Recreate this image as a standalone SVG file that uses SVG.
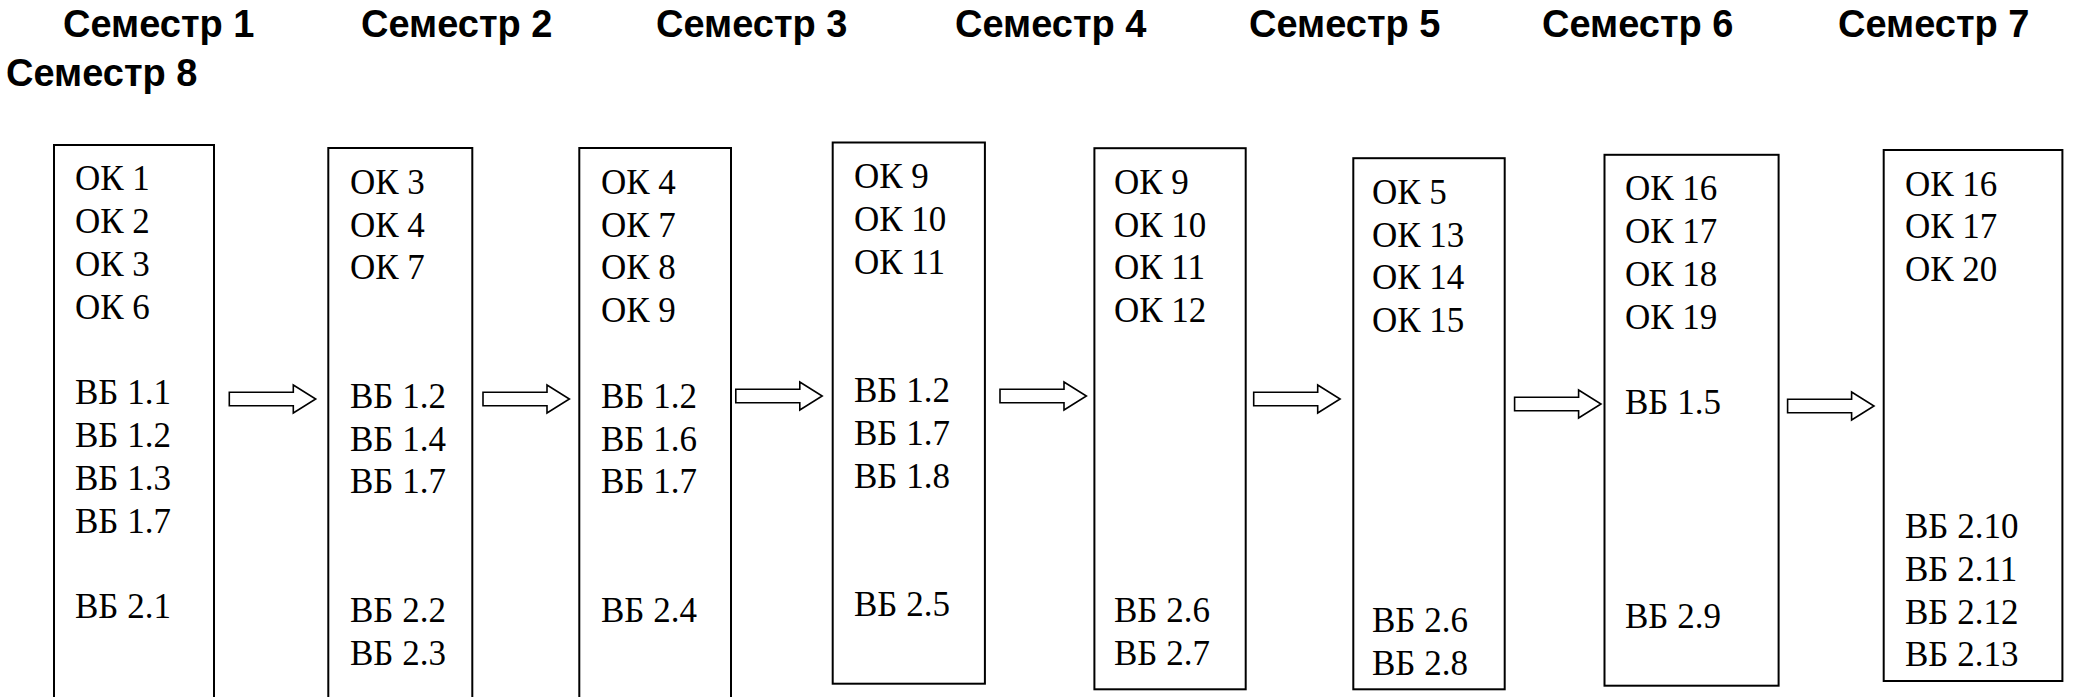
<svg xmlns="http://www.w3.org/2000/svg" xmlns:xlink="http://www.w3.org/1999/xlink" width="2073" height="697" viewBox="0 0 2073 697">
<style>
.hd{font-family:"Liberation Sans",Arial,sans-serif;font-weight:bold;font-size:38px;fill:#000}
.bx{fill:#fff;stroke:#000;stroke-width:2}
.tx{font-family:"Liberation Serif","Times New Roman",serif;font-size:35px;fill:#000}
.ar{fill:#fff;stroke:#000;stroke-width:1.6;stroke-linejoin:miter}
</style>
<defs>
<path id="arrow" class="ar" d="M0,-6.7 H64 V-14 L86.4,0 L64,14 V6.7 H0 Z"/>
</defs>
<rect width="2073" height="697" fill="#fff"/>
<g id="headings">
<text class="hd" x="63" y="37">Семестр 1</text>
<text class="hd" x="361" y="37">Семестр 2</text>
<text class="hd" x="656" y="37">Семестр 3</text>
<text class="hd" x="955" y="37">Семестр 4</text>
<text class="hd" x="1249" y="37">Семестр 5</text>
<text class="hd" x="1542" y="37">Семестр 6</text>
<text class="hd" x="1838" y="37">Семестр 7</text>
<text class="hd" x="6" y="86">Семестр 8</text>
</g>
<g id="connectors">
<use xlink:href="#arrow" transform="translate(229.3,399)"/>
<use xlink:href="#arrow" transform="translate(483,399)"/>
<use xlink:href="#arrow" transform="translate(735.8,396)"/>
<use xlink:href="#arrow" transform="translate(1000,396)"/>
<use xlink:href="#arrow" transform="translate(1253.7,399)"/>
<use xlink:href="#arrow" transform="translate(1514.6,404)"/>
<use xlink:href="#arrow" transform="translate(1787.6,406)"/>
</g>
<g id="sem1">
<rect class="bx" x="54" y="145" width="160" height="600"/>
<text class="tx"><tspan x="75" y="190.3">ОК 1</tspan><tspan x="75" y="233.1">ОК 2</tspan><tspan x="75" y="275.9">ОК 3</tspan><tspan x="75" y="318.7">ОК 6</tspan><tspan x="75" y="404.3">ВБ 1.1</tspan><tspan x="75" y="447.1">ВБ 1.2</tspan><tspan x="75" y="489.9">ВБ 1.3</tspan><tspan x="75" y="532.7">ВБ 1.7</tspan><tspan x="75" y="618.3">ВБ 2.1</tspan></text>
</g>
<g id="sem2">
<rect class="bx" x="328.3" y="148" width="144" height="600"/>
<text class="tx"><tspan x="350" y="193.7">ОК 3</tspan><tspan x="350" y="236.5">ОК 4</tspan><tspan x="350" y="279.3">ОК 7</tspan><tspan x="350" y="407.7">ВБ 1.2</tspan><tspan x="350" y="450.5">ВБ 1.4</tspan><tspan x="350" y="493.3">ВБ 1.7</tspan><tspan x="350" y="621.7">ВБ 2.2</tspan><tspan x="350" y="664.5">ВБ 2.3</tspan></text>
</g>
<g id="sem3">
<rect class="bx" x="579.3" y="148" width="151.7" height="600"/>
<text class="tx"><tspan x="601" y="193.7">ОК 4</tspan><tspan x="601" y="236.5">ОК 7</tspan><tspan x="601" y="279.3">ОК 8</tspan><tspan x="601" y="322.1">ОК 9</tspan><tspan x="601" y="407.7">ВБ 1.2</tspan><tspan x="601" y="450.5">ВБ 1.6</tspan><tspan x="601" y="493.3">ВБ 1.7</tspan><tspan x="601" y="621.7">ВБ 2.4</tspan></text>
</g>
<g id="sem4">
<rect class="bx" x="832.7" y="142.5" width="152.2" height="541.2"/>
<text class="tx"><tspan x="854" y="188">ОК 9</tspan><tspan x="854" y="230.8">ОК 10</tspan><tspan x="854" y="273.6">ОК 11</tspan><tspan x="854" y="402">ВБ 1.2</tspan><tspan x="854" y="444.8">ВБ 1.7</tspan><tspan x="854" y="487.6">ВБ 1.8</tspan><tspan x="854" y="616">ВБ 2.5</tspan></text>
</g>
<g id="sem5">
<rect class="bx" x="1094.4" y="148.2" width="151.3" height="541.1"/>
<text class="tx"><tspan x="1114" y="193.7">ОК 9</tspan><tspan x="1114" y="236.5">ОК 10</tspan><tspan x="1114" y="279.3">ОК 11</tspan><tspan x="1114" y="322.1">ОК 12</tspan><tspan x="1114" y="621.7">ВБ 2.6</tspan><tspan x="1114" y="664.5">ВБ 2.7</tspan></text>
</g>
<g id="sem6">
<rect class="bx" x="1353.3" y="158.2" width="151.4" height="531.1"/>
<text class="tx"><tspan x="1372" y="203.7">ОК 5</tspan><tspan x="1372" y="246.5">ОК 13</tspan><tspan x="1372" y="289.3">ОК 14</tspan><tspan x="1372" y="332.1">ОК 15</tspan><tspan x="1372" y="631.7">ВБ 2.6</tspan><tspan x="1372" y="674.5">ВБ 2.8</tspan></text>
</g>
<g id="sem7">
<rect class="bx" x="1604.5" y="154.8" width="174.1" height="530.9"/>
<text class="tx"><tspan x="1625" y="200.3">ОК 16</tspan><tspan x="1625" y="243.1">ОК 17</tspan><tspan x="1625" y="285.9">ОК 18</tspan><tspan x="1625" y="328.7">ОК 19</tspan><tspan x="1625" y="414.3">ВБ 1.5</tspan><tspan x="1625" y="628.3">ВБ 2.9</tspan></text>
</g>
<g id="sem8">
<rect class="bx" x="1883.7" y="150" width="178.7" height="531"/>
<text class="tx"><tspan x="1905" y="195.5">ОК 16</tspan><tspan x="1905" y="238.3">ОК 17</tspan><tspan x="1905" y="281.1">ОК 20</tspan><tspan x="1905" y="537.9">ВБ 2.10</tspan><tspan x="1905" y="580.7">ВБ 2.11</tspan><tspan x="1905" y="623.5">ВБ 2.12</tspan><tspan x="1905" y="666.3">ВБ 2.13</tspan></text>
</g>
</svg>
